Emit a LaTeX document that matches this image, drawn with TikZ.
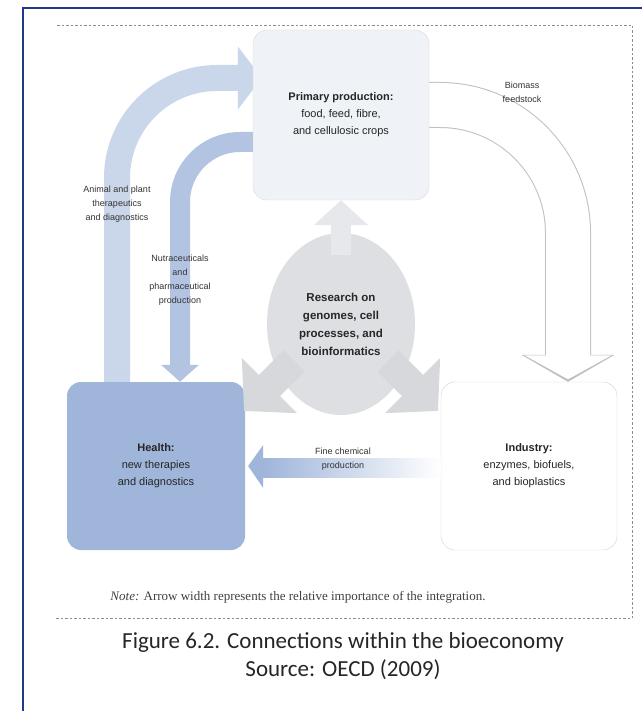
\documentclass[tikz,border=0pt]{standalone}
\usepackage{fontspec}
\setmainfont{Liberation Sans}
\newfontfamily\capfont{Carlito}
\newfontfamily\notefont{Liberation Serif}
\usetikzlibrary{arrows.meta,positioning,backgrounds,shapes.geometric}
\definecolor{framenavy}{HTML}{1F3A8A}
\definecolor{healthblue}{HTML}{9FB5DA}
\definecolor{outerblue}{HTML}{CAD6E9}
\definecolor{innerblue}{HTML}{B2C4E2}
\definecolor{primfill}{HTML}{EFF2F7}
\definecolor{resgray}{HTML}{DDDFE2}
\definecolor{headgray}{HTML}{D6D8DC}
\definecolor{upgray}{HTML}{E6E8EB}
\begin{document}
\begin{tikzpicture}[x=1pt,y=-1pt,
  box/.style={rectangle,rounded corners=14pt,minimum width=176pt,minimum height=168pt,
    inner sep=0pt,align=center,font=\fontsize{11}{17}\selectfont,text=black!85},
  lab/.style={align=center,font=\fontsize{9}{14}\selectfont,text=black!80},
  headarrow/.style={headgray,line width=30pt,-{Triangle[width=76pt,length=36pt]}}]
  \useasboundingbox (0,0) rectangle (641,711);
  % boxes
  \node[box,fill=primfill,draw=black!15,minimum height=170pt] (prim) at (341,115)
    {\textbf{Primary production:}\\food, feed, fibre,\\and cellulosic crops};
  \node[box,fill=healthblue,minimum width=178pt] (health) at (156,466)
    {\textbf{Health:}\\new therapies\\and diagnostics};
  \node[box,fill=white,draw=black!18] (ind) at (529,466)
    {\textbf{Industry:}\\enzymes, biofuels,\\and bioplastics};
  \node[ellipse,fill=resgray,minimum width=148pt,minimum height=182pt,inner sep=0pt] (res) at (341,324) {};
  % wide arrows behind the boxes
  \begin{scope}[on background layer]
    \fill[white] (0,0) rectangle (641,711);
    \draw[outerblue,line width=26pt,rounded corners=100pt,-{Triangle[width=62pt,length=24pt]}]
      ([xshift=-39pt]health.north) |- ([xshift=9pt,yshift=37pt]prim.west);
    \draw[innerblue,line width=20pt,rounded corners=60pt,-{Triangle[width=37pt,length=17pt]}]
      ([xshift=5pt,yshift=-27pt]prim.west) -| ([xshift=24pt]health.north);
    \draw[black!25,line width=46pt,rounded corners=128pt,-{Triangle[width=92pt,length=27pt]}]
      ([xshift=-5pt,yshift=10pt]prim.east) -| ([xshift=39pt]ind.north);
    \draw[white,line width=44pt,rounded corners=128pt,shorten >=2.5pt,-{Triangle[width=86pt,length=24pt]}]
      ([xshift=-5pt,yshift=10pt]prim.east) -| ([xshift=39pt]ind.north);
  \end{scope}
  % research arrows
  \draw[upgray,line width=20pt,-{Triangle[width=53pt,length=25pt]}] ([yshift=-22pt]res.north) -- (prim.south);
  \coordinate (baseL) at (294,361);
  \coordinate (tipL) at (244,411);
  \coordinate (baseR) at (388,361);
  \coordinate (tipR) at (438,411);
  \draw[headarrow] (baseL) -- (tipL);
  \draw[headarrow] (baseR) -- (tipR);
  \node[align=center,text=black!85,font=\bfseries\fontsize{11.5}{18}\selectfont] (restext) at (res.center)
    {Research on\\genomes, cell\\processes, and\\bioinformatics};
  % fine chemical production
  \shade[left color=healthblue,right color=white] ([xshift=18pt,yshift=8pt]health.east) rectangle ([yshift=-11pt]ind.west);
  \fill[healthblue] ([xshift=3pt]health.east) -- ([xshift=18pt,yshift=21pt]health.east)
    -- ([xshift=18pt,yshift=-22pt]health.east) -- cycle;
  % arrow labels
  \node[lab] (animal) at (117,204) {Animal and plant\\therapeutics\\and diagnostics};
  \node[lab] (nutra) at (180,280) {Nutraceuticals\\and\\pharmaceutical\\production};
  \node[lab] (biomass) at (522,92) {Biomass\\feedstock};
  \node[lab] (fine) at (343,459) {Fine chemical\\production};
  % frames
  \draw[framenavy,line width=2.5pt] (23,715) -- (23,8) -- (645,8);
  \draw[black!45,line width=0.9pt,dash pattern=on 2.5pt off 2pt] (57,25) -- (632,25) -- (632,618) -- (55,618);
  % note and caption
  \node[font=\notefont\fontsize{13}{15}\selectfont,text=black!75] (note) at (298,597)
    {\textit{Note:} Arrow width represents the relative importance of the integration.};
  \node[font=\capfont\fontsize{23}{28}\selectfont,text=black!85] (cap) at (343,642)
    {Figure 6.2. Connections within the bioeconomy};
  \node[font=\capfont\fontsize{23}{28}\selectfont,text=black!85] (src) at (343,670)
    {Source: OECD (2009)};
\end{tikzpicture}
\end{document}
